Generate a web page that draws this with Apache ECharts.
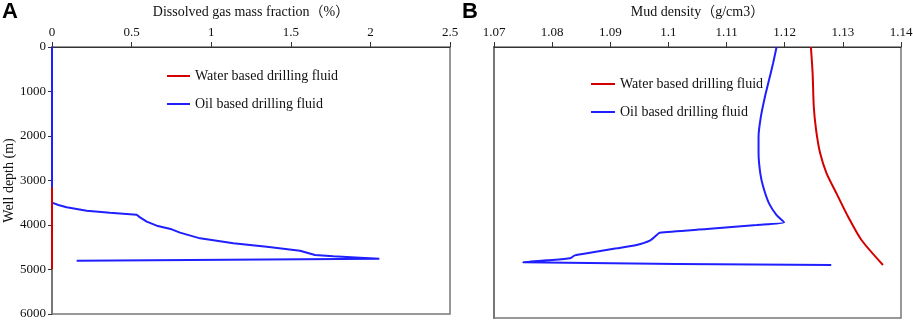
<!DOCTYPE html>
<html>
<head>
<meta charset="utf-8">
<script src="https://cdn.jsdelivr.net/npm/echarts@6/dist/echarts.min.js"></script>
<style>html,body{margin:0;padding:0;background:#fff}#c{width:913px;height:320px}</style>
</head>
<body>
<div id="c"></div>
<script>
// Panel A: dissolved gas mass fraction (%) vs well depth (m)
var gasTicks = [0, 0.5, 1, 1.5, 2, 2.5];
var depthTicks = [0, 1000, 2000, 3000, 4000, 5000, 6000];
var waterGasX = [0, 0];
var waterGasDepth = [3150, 4990];
var oilGasX = [0, 0, 0.04, 0.092, 0.218, 0.364, 0.532, 0.553, 0.595, 0.658, 0.752, 0.804, 0.930, 1.139, 1.349, 1.558, 1.652, 1.767, 1.935, 2.056, 0.155];
var oilGasDepth = [0, 3498, 3551, 3603, 3678, 3723, 3768, 3828, 3925, 4015, 4097, 4172, 4300, 4412, 4487, 4577, 4674, 4704, 4734, 4757, 4802];

// Panel B: mud density (g/cm3) vs well depth (m)
var densTicks = [1.07, 1.08, 1.09, 1.1, 1.11, 1.12, 1.13, 1.14];
var waterDensX = [1.1245, 1.1248, 1.1250, 1.1254, 1.1261, 1.1272, 1.1289, 1.1309, 1.1332, 1.1369];
var waterDensDepth = [0, 583, 1322, 1838, 2354, 2797, 3240, 3757, 4273, 4826];
var oilDensX = [1.1186, 1.1180, 1.1173, 1.1166, 1.1159, 1.1155, 1.1155, 1.1158, 1.1163, 1.1173, 1.1186, 1.1199, 1.1152, 1.1066, 1.0985, 1.0980, 1.0968, 1.0945, 1.0911, 1.0865, 1.0839, 1.0831, 1.0791, 1.0750, 1.1280];
var oilDensDepth = [0, 361, 731, 1100, 1543, 1986, 2354, 2797, 3093, 3461, 3720, 3882, 3941, 4030, 4111, 4162, 4288, 4384, 4458, 4554, 4613, 4679, 4724, 4768, 4826];

var seriesNames = ['Water based drilling fluid', 'Oil based drilling fluid'];
var RED = '#d40000', BLUE = '#1f1fff';
var SERIF = '"Liberation Serif", "Times New Roman", "Noto Sans CJK SC", serif';

function pairs(xs, ys) { return xs.map(function (x, i) { return [x, ys[i]]; }); }

var chart = echarts.init(document.getElementById('c'), null, {renderer: 'canvas'});

function xAxisCfg(gi, ticks, name, decimals) {
  return {
    gridIndex: gi, type: 'value', position: 'top',
    min: ticks[0], max: ticks[ticks.length - 1], interval: ticks[1] - ticks[0],
    name: name, nameLocation: 'middle', nameGap: 28,
    nameTextStyle: {fontFamily: SERIF, fontSize: 14, color: '#111'},
    axisLine: {show: true, onZero: false, lineStyle: {color: '#333', width: 1}},
    axisTick: {show: true, inside: false, length: 5, lineStyle: {color: '#333'}},
    axisLabel: {fontFamily: SERIF, fontSize: 13, color: '#111', margin: 8,
      formatter: function (v) { return String(parseFloat(v.toFixed(decimals))); }},
    splitLine: {show: false}
  };
}

var option = {
  animation: false,
  backgroundColor: '#fff',
  graphic: [
    {type: 'text', left: 2, top: 1, style: {text: 'A', font: 'bold 22px "Liberation Sans", Arial, sans-serif', fill: '#000'}},
    {type: 'text', left: 462, top: 1, style: {text: 'B', font: 'bold 22px "Liberation Sans", Arial, sans-serif', fill: '#000'}}
  ],
  grid: [
    {left: 52, top: 47, width: 398, height: 267, outerBoundsMode: 'none', containLabel: false,
     show: true, borderColor: '#777', borderWidth: 1.5, backgroundColor: 'transparent'},
    {left: 494, top: 47, width: 407, height: 271, outerBoundsMode: 'none', containLabel: false,
     show: true, borderColor: '#777', borderWidth: 1.5, backgroundColor: 'transparent'}
  ],
  xAxis: [
    xAxisCfg(0, gasTicks, 'Dissolved gas mass fraction（%）', 1),
    xAxisCfg(1, densTicks, 'Mud density（g/cm3）', 2)
  ],
  yAxis: [
    {gridIndex: 0, type: 'value', inverse: true, min: depthTicks[0], max: depthTicks[depthTicks.length - 1],
     interval: depthTicks[1] - depthTicks[0],
     name: 'Well depth (m)', nameLocation: 'middle', nameGap: 34, nameRotate: 90,
     nameTextStyle: {fontFamily: SERIF, fontSize: 14, color: '#111'},
     axisLine: {show: true, onZero: false, lineStyle: {color: '#777', width: 2}},
     axisTick: {show: true, length: 4, lineStyle: {color: '#333'}},
     axisLabel: {fontFamily: SERIF, fontSize: 13, color: '#111', margin: 6,
       formatter: function (v) { return String(v); }},
     splitLine: {show: false}},
    {gridIndex: 1, type: 'value', inverse: true, min: depthTicks[0], max: depthTicks[depthTicks.length - 1],
     interval: depthTicks[1] - depthTicks[0],
     axisLine: {show: true, onZero: false, lineStyle: {color: '#777', width: 2}},
     axisTick: {show: false}, axisLabel: {show: false}, splitLine: {show: false}}
  ],
  legend: [
    {left: 167, top: 69, padding: 0, orient: 'vertical', itemWidth: 23, itemHeight: 2, itemGap: 14, icon: 'rect',
     data: seriesNames, selectedMode: false,
     textStyle: {fontFamily: SERIF, fontSize: 14, color: '#111'}},
    {left: 591, top: 77, padding: 0, orient: 'vertical', itemWidth: 24, itemHeight: 2, itemGap: 14, icon: 'rect',
     data: seriesNames, selectedMode: false,
     textStyle: {fontFamily: SERIF, fontSize: 14, color: '#111'}}
  ],
  series: [
    {name: seriesNames[1], type: 'line', xAxisIndex: 0, yAxisIndex: 0, data: pairs(oilGasX, oilGasDepth),
     showSymbol: false, symbol: 'none', color: BLUE, lineStyle: {color: BLUE, width: 2}, smooth: false, z: 2},
    {name: seriesNames[0], type: 'line', xAxisIndex: 0, yAxisIndex: 0, data: pairs(waterGasX, waterGasDepth),
     showSymbol: false, symbol: 'none', color: RED, lineStyle: {color: RED, width: 2}, z: 3},
    {name: seriesNames[0], type: 'line', xAxisIndex: 1, yAxisIndex: 1, data: pairs(waterDensX, waterDensDepth),
     showSymbol: false, symbol: 'none', color: RED, lineStyle: {color: RED, width: 2}, smooth: 0.25},
    {name: seriesNames[1], type: 'line', xAxisIndex: 1, yAxisIndex: 1, data: pairs(oilDensX, oilDensDepth),
     showSymbol: false, symbol: 'none', color: BLUE, lineStyle: {color: BLUE, width: 2}, smooth: 0.2}
  ]
};
chart.setOption(option);
</script>
</body>
</html>
